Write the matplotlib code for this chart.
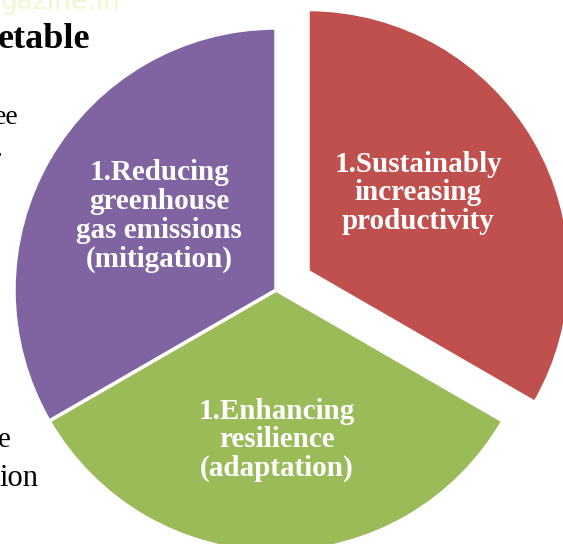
import matplotlib
matplotlib.use("Agg")
import matplotlib.pyplot as plt

# three pillars, equal share
labels = [
    "1.Sustainably\nincreasing\nproductivity",
    "1.Enhancing\nresilience\n(adaptation)",
    "1.Reducing\ngreenhouse\ngas emissions\n(mitigation)",
]
shares = [1, 1, 1]
colors = ["#C0504D", "#9BBB59", "#8064A2"]

W, H = 563, 544


def py(y):
    # pixel row -> data y
    return H - y


fig = plt.figure(figsize=(W / 100, H / 100), dpi=100)
ax = fig.add_axes([0, 0, 1, 1])

serif = ["Liberation Serif", "DejaVu Serif"]

# bits of the surrounding page that show in the crop
ax.text(-2, py(40), "etable", fontsize=26, fontweight="bold", family=serif,
        ha="left", va="center", color="black")
ax.text(-6, py(118), "ee", fontsize=20, family=serif, ha="left", va="center")
ax.text(-9, py(160), "r", fontsize=20, family=serif, ha="left", va="center")
ax.text(-2, py(440), "e", fontsize=21, family=serif, ha="left", va="center")
ax.text(-1, py(478), "ion", fontsize=22, family=serif, ha="left", va="center")
ax.text(0, py(2), "gazine.in", fontsize=19, family="DejaVu Sans",
        ha="left", va="center", color="#EEF8D0")

# explode is in data units here (radius is 262)
wedges, _ = ax.pie(shares, colors=colors, startangle=90, counterclock=False,
                   center=(276, py(290)), radius=262, explode=[37, 0, 0],
                   wedgeprops=dict(edgecolor="white", linewidth=2.5))

label_pos = [(418, 193), (277, 440), (159, 216)]
for txt, (x, y) in zip(labels, label_pos):
    ax.text(x, py(y), txt, ha="center", va="center", color="white",
            fontsize=21, fontweight="bold", family=serif, linespacing=1.08)

ax.set_xlim(0, W)
ax.set_ylim(0, H)
ax.set_aspect("auto")
ax.axis("off")

fig.savefig("out.png", dpi=100)
